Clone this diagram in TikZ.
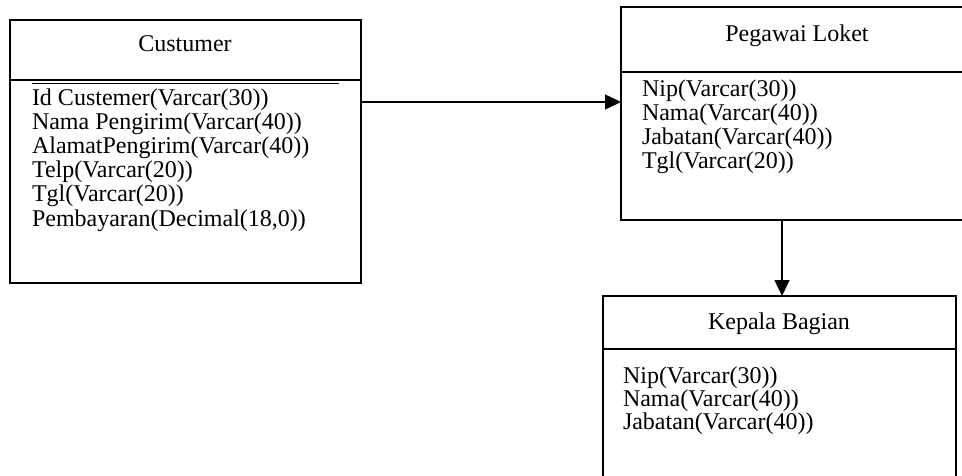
\documentclass[tikz,border=0pt]{standalone}
\usepackage{fontspec}
\setmainfont{Liberation Serif}
\usetikzlibrary{arrows.meta}
\begin{document}
\begin{tikzpicture}[x=1pt,y=-1pt,
  every node/.style={inner sep=0pt,outer sep=0pt},
  entity/.style={draw,line width=1.8pt,anchor=north west,rectangle},
  rule/.style={line width=1.5pt},
  title/.style={anchor=base,font=\fontsize{24}{24}\selectfont},
  field/.style={anchor=base west,font=\fontsize{24}{24}\selectfont},
  link/.style={line width=1.5pt,-{Triangle[length=16pt,width=15pt]}}]
\clip (0,0) rectangle (962,476);
\fill[white] (0,0) rectangle (962,476);

% Custumer entity
\node[entity,minimum width=351pt,minimum height=263pt] (cust) at (10,20) {};
\draw[rule] (cust.north west |- 0,80) -- (cust.north east |- 0,80);
\draw[line width=1.2pt] (32,83.6) -- (339,83.6);
\node[title] (custT) at (185,52) {Custumer};
\node[field] (c1) at (32,106) {Id Custemer(Varcar(30))};
\node[field] (c2) at (32,130) {Nama Pengirim(Varcar(40))};
\node[field] (c3) at (32,154) {AlamatPengirim(Varcar(40))};
\node[field] (c4) at (32,178) {Telp(Varcar(20))};
\node[field] (c5) at (32,202) {Tgl(Varcar(20))};
\node[field] (c6) at (32,226) {Pembayaran(Decimal(18,0))};

% Pegawai Loket entity
\node[entity,minimum width=356pt,minimum height=213pt] (peg) at (621,7) {};
\draw[rule] (peg.north west |- 0,72) -- (peg.north east |- 0,72);
\node[title] (pegT) at (797,42) {Pegawai Loket};
\node[field] (p1) at (642,97) {Nip(Varcar(30))};
\node[field] (p2) at (642,121) {Nama(Varcar(40))};
\node[field] (p3) at (642,145) {Jabatan(Varcar(40))};
\node[field] (p4) at (642,169) {Tgl(Varcar(20))};

% Kepala Bagian entity
\node[entity,minimum width=353pt,minimum height=190pt] (kep) at (603,296) {};
\draw[rule] (kep.north west |- 0,349) -- (kep.north east |- 0,349);
\node[title] (kepT) at (779,329) {Kepala Bagian};
\node[field] (k1) at (623,383) {Nip(Varcar(30))};
\node[field] (k2) at (623,406) {Nama(Varcar(40))};
\node[field] (k3) at (623,429) {Jabatan(Varcar(40))};

% Relationships
\draw[link] ([yshift=-82pt]cust.north east) -- ([yshift=-82pt]cust.north east -| peg.west);
\draw[link] ([xshift=161pt]peg.south west) -- ([xshift=161pt]peg.south west |- kep.north);
\end{tikzpicture}
\end{document}
